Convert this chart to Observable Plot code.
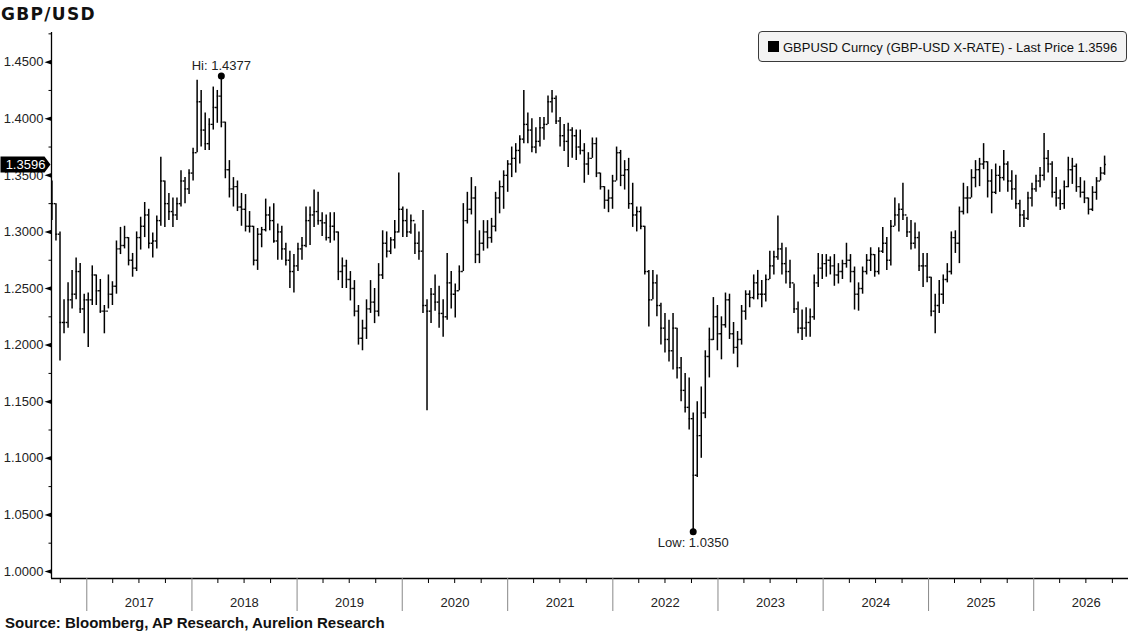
<!DOCTYPE html>
<html><head><meta charset="utf-8">
<script src="https://cdn.jsdelivr.net/npm/d3@7"></script>
<script src="https://cdn.jsdelivr.net/npm/@observablehq/plot@0.6"></script>
<style>
body{margin:0;background:#fff;}
#wrap{position:relative;width:1128px;height:635px;overflow:hidden;background:#fff;}
#chart{position:absolute;left:0;top:0;}
#title{position:absolute;left:1px;top:6px;font:bold 17px "DejaVu Sans",sans-serif;letter-spacing:1.3px;line-height:17px;color:#111;}
#source{position:absolute;left:5px;top:615px;font:bold 15px "Liberation Sans",Arial,sans-serif;line-height:15px;color:#111;white-space:nowrap;}
#legend{position:absolute;left:758px;top:31px;width:367px;height:29px;border:1px solid #3a3a3a;border-radius:4px;background:#f3f3f3;box-sizing:content-box;}
#legend .sq{position:absolute;left:9px;top:9px;width:11px;height:11px;background:#000;}
#legend .tx{position:absolute;left:24px;top:8px;font:13px "Liberation Sans",Arial,sans-serif;line-height:15px;color:#111;white-space:nowrap;}
</style></head><body>
<div id="wrap"><div id="chart"></div><div id="title">GBP/USD</div><div id="legend"><span class="sq"></span><span class="tx"></span></div><div id="source">Source: Bloomberg, AP Research, Aurelion Research</div></div>
<script>
// Bi-weekly OHLC bars of GBP/USD; open = previous close
const startDate = "2016-09-02";
const stepDays = 14;
const high = [
1.345,1.325,1.300,1.240,1.255,1.266,1.277,1.272,1.245,1.246,
1.270,1.262,1.258,1.235,1.262,1.256,1.292,1.304,1.305,1.295,
1.281,1.300,1.313,1.326,1.320,1.299,1.314,1.366,1.345,1.334,
1.330,1.330,1.354,1.348,1.355,1.374,1.434,1.425,1.405,1.400,
1.428,1.425,1.4377,1.397,1.363,1.348,1.345,1.334,1.333,1.318,
1.305,1.303,1.304,1.329,1.322,1.325,1.307,1.305,1.290,1.283,
1.280,1.290,1.295,1.322,1.322,1.337,1.335,1.317,1.315,1.317,
1.317,1.300,1.277,1.275,1.265,1.257,1.235,1.222,1.240,1.257,
1.250,1.272,1.301,1.300,1.295,1.310,1.352,1.322,1.320,1.315,
1.307,1.300,1.319,1.240,1.250,1.262,1.252,1.240,1.281,1.265,
1.254,1.270,1.325,1.335,1.348,1.340,1.301,1.310,1.310,1.312,
1.335,1.345,1.354,1.363,1.375,1.378,1.385,1.425,1.405,1.400,
1.392,1.401,1.401,1.420,1.425,1.420,1.401,1.395,1.396,1.392,
1.390,1.390,1.378,1.370,1.383,1.383,1.352,1.340,1.337,1.350,
1.375,1.372,1.363,1.365,1.343,1.322,1.322,1.305,1.266,1.266,
1.262,1.237,1.228,1.222,1.228,1.215,1.189,1.175,1.171,1.140,
1.150,1.163,1.195,1.215,1.242,1.235,1.225,1.246,1.245,1.220,
1.212,1.235,1.248,1.248,1.262,1.266,1.257,1.262,1.283,1.283,
1.314,1.290,1.286,1.275,1.254,1.238,1.231,1.233,1.232,1.262,
1.281,1.280,1.280,1.278,1.280,1.272,1.275,1.290,1.280,1.269,
1.255,1.269,1.280,1.286,1.280,1.286,1.304,1.295,1.310,1.330,
1.325,1.343,1.313,1.310,1.308,1.300,1.281,1.281,1.260,1.245,
1.257,1.262,1.272,1.300,1.301,1.322,1.343,1.340,1.355,1.363,
1.365,1.378,1.362,1.355,1.360,1.358,1.372,1.362,1.354,1.350,
1.328,1.319,1.335,1.343,1.350,1.357,1.387,1.372,1.362,1.348,
1.337,1.345,1.366,1.365,1.360,1.348,1.345,1.330,1.340,1.348,
1.357,1.367];
const low = [
1.310,1.292,1.186,1.210,1.215,1.232,1.240,1.228,1.210,1.198,
1.235,1.235,1.228,1.210,1.232,1.235,1.245,1.280,1.285,1.270,
1.260,1.265,1.284,1.295,1.285,1.277,1.285,1.305,1.304,1.310,
1.304,1.310,1.322,1.325,1.333,1.345,1.370,1.375,1.372,1.372,
1.390,1.396,1.392,1.347,1.330,1.322,1.318,1.305,1.300,1.299,
1.270,1.266,1.286,1.300,1.301,1.290,1.275,1.275,1.270,1.250,
1.246,1.265,1.275,1.286,1.288,1.304,1.306,1.296,1.292,1.290,
1.292,1.257,1.250,1.250,1.239,1.225,1.200,1.195,1.205,1.228,
1.219,1.225,1.258,1.277,1.280,1.285,1.299,1.295,1.295,1.298,
1.280,1.275,1.228,1.142,1.219,1.230,1.215,1.207,1.222,1.232,
1.224,1.248,1.265,1.307,1.315,1.272,1.272,1.283,1.285,1.290,
1.300,1.316,1.320,1.335,1.348,1.352,1.360,1.378,1.378,1.370,
1.369,1.375,1.381,1.395,1.405,1.395,1.375,1.371,1.357,1.365,
1.363,1.368,1.343,1.350,1.365,1.348,1.337,1.320,1.317,1.320,
1.345,1.340,1.337,1.320,1.304,1.300,1.302,1.262,1.216,1.240,
1.225,1.200,1.193,1.185,1.178,1.170,1.150,1.140,1.125,1.035,
1.083,1.100,1.135,1.171,1.204,1.195,1.187,1.215,1.205,1.192,
1.180,1.200,1.222,1.233,1.240,1.240,1.233,1.238,1.258,1.262,
1.275,1.262,1.254,1.250,1.228,1.210,1.204,1.207,1.207,1.222,
1.251,1.258,1.260,1.262,1.252,1.254,1.258,1.268,1.255,1.231,
1.230,1.245,1.262,1.265,1.260,1.262,1.281,1.266,1.270,1.305,
1.300,1.310,1.295,1.284,1.285,1.265,1.251,1.255,1.225,1.210,
1.228,1.236,1.255,1.262,1.281,1.272,1.315,1.316,1.330,1.339,
1.340,1.355,1.330,1.316,1.333,1.335,1.345,1.335,1.328,1.320,
1.304,1.304,1.310,1.322,1.335,1.339,1.345,1.352,1.330,1.322,
1.319,1.320,1.339,1.342,1.335,1.330,1.325,1.315,1.318,1.328,
1.345,1.350];
const close = [
1.325,1.298,1.220,1.220,1.240,1.245,1.265,1.232,1.240,1.240,
1.262,1.248,1.230,1.230,1.245,1.252,1.285,1.288,1.295,1.275,
1.268,1.295,1.305,1.315,1.290,1.292,1.310,1.345,1.325,1.318,
1.315,1.325,1.345,1.338,1.352,1.370,1.415,1.390,1.378,1.395,
1.410,1.420,1.397,1.355,1.338,1.340,1.322,1.320,1.305,1.305,
1.275,1.298,1.302,1.315,1.310,1.292,1.300,1.285,1.275,1.265,
1.270,1.285,1.288,1.310,1.315,1.318,1.310,1.308,1.295,1.305,
1.300,1.265,1.270,1.258,1.250,1.230,1.206,1.215,1.232,1.238,
1.230,1.262,1.290,1.283,1.293,1.300,1.320,1.310,1.300,1.310,
1.290,1.283,1.235,1.230,1.245,1.238,1.228,1.225,1.255,1.245,
1.248,1.265,1.310,1.320,1.330,1.280,1.290,1.300,1.295,1.305,
1.330,1.340,1.350,1.360,1.365,1.372,1.382,1.395,1.390,1.375,
1.380,1.392,1.395,1.415,1.418,1.398,1.385,1.380,1.390,1.385,
1.375,1.372,1.360,1.365,1.378,1.352,1.340,1.328,1.330,1.345,
1.370,1.350,1.355,1.325,1.315,1.318,1.305,1.265,1.240,1.255,
1.235,1.215,1.205,1.195,1.215,1.180,1.160,1.145,1.135,1.085,
1.120,1.140,1.190,1.205,1.225,1.210,1.218,1.240,1.210,1.198,
1.205,1.230,1.245,1.242,1.255,1.245,1.245,1.258,1.270,1.278,
1.285,1.272,1.265,1.255,1.232,1.215,1.215,1.220,1.225,1.255,
1.268,1.272,1.275,1.270,1.262,1.265,1.272,1.275,1.265,1.245,
1.250,1.265,1.275,1.280,1.265,1.283,1.290,1.275,1.305,1.315,
1.320,1.315,1.300,1.290,1.295,1.270,1.270,1.260,1.230,1.235,
1.245,1.258,1.265,1.295,1.290,1.318,1.330,1.330,1.348,1.355,
1.360,1.362,1.345,1.335,1.350,1.348,1.360,1.345,1.338,1.325,
1.315,1.312,1.330,1.338,1.345,1.350,1.365,1.360,1.335,1.330,
1.325,1.340,1.355,1.358,1.340,1.335,1.330,1.320,1.335,1.345,
1.352,1.3596];
const yTicks = [1.00, 1.05, 1.10, 1.15, 1.20, 1.25, 1.30, 1.35, 1.40, 1.45];
const yMinorTicks = [1.025, 1.075, 1.125, 1.175, 1.225, 1.275, 1.325, 1.375, 1.425, 1.475];
const yearLabels = [2017, 2018, 2019, 2020, 2021, 2022, 2023, 2024, 2025, 2026];
const seriesName = "GBPUSD Curncy (GBP-USD X-RATE)";

const fmt = d3.format(".4f");
const t0 = new Date(startDate + "T00:00:00Z");
const data = high.map((h, i) => ({
  date: d3.utcDay.offset(t0, stepDays * i),
  high: h, low: low[i], close: close[i],
  open: i > 0 ? close[i - 1] : null
}));
const xDomain = [new Date(Date.UTC(2016, 7, 31, 12)), new Date(Date.UTC(2026, 10, 26))];
const yDomain = [0.9938, 1.4762];
const yearStarts = yearLabels.map(y => new Date(Date.UTC(y, 0, 1)));
const yearMids = yearLabels.map(y => new Date(Date.UTC(y, 6, 2)));
const quarterTicks = d3.utcMonth.every(3).range(xDomain[0], xDomain[1]).filter(d => d.getUTCMonth() !== 0);
const hi = d3.greatest(data, d => d.high);
const lo = d3.least(data, d => d.low);
const last = data[data.length - 1];

const wedge = {draw(c) { c.moveTo(-7, 0); c.lineTo(0, -2.3); c.lineTo(0, 2.3); c.closePath(); }};
const minorTick = {draw(c) { c.moveTo(-3, 0); c.lineTo(0, 0); }};
const priceTag = {draw(c) { c.moveTo(-51, -8); c.lineTo(-7, -8); c.lineTo(-1, 0); c.lineTo(-7, 8); c.lineTo(-51, 8); c.closePath(); }};

const chart = Plot.plot({
  width: 1128, height: 635,
  marginTop: 32, marginBottom: 57, marginLeft: 51, marginRight: 0,
  x: {type: "utc", domain: xDomain, axis: null},
  y: {domain: yDomain, axis: null},
  style: {fontFamily: "'Liberation Sans', Arial, sans-serif", fontSize: "13px", color: "#222", background: "transparent", overflow: "visible"},
  marks: [
    Plot.ruleX(data, {x: "date", y1: "low", y2: "high", stroke: "#000", strokeWidth: 1.5}),
    Plot.ruleY(data, {y: "close", x1: "date", x2: d => d3.utcDay.offset(d.date, 6), stroke: "#000", strokeWidth: 1.4}),
    Plot.ruleY(data.filter(d => d.open != null), {y: "open", x1: d => d3.utcDay.offset(d.date, -6), x2: "date", stroke: "#000", strokeWidth: 1.4}),
    Plot.ruleX([xDomain[0]], {stroke: "#000", strokeWidth: 1.3}),
    Plot.ruleY([yDomain[0]], {stroke: "#000", strokeWidth: 1.3}),
    Plot.axisY(yTicks, {anchor: "left", tickSize: 0, tickPadding: 8, tickFormat: fmt, label: null, fill: "#222", fontSize: 13}),
    Plot.dot(yTicks, {y: d => d, frameAnchor: "left", symbol: wedge, r: 1, fill: "#000", stroke: "none"}),
    Plot.dot(yMinorTicks, {y: d => d, frameAnchor: "left", symbol: minorTick, r: 1, fill: "none", stroke: "#000", strokeWidth: 1}),
    Plot.axisX(yearStarts, {anchor: "bottom", tickSize: 33, tickFormat: () => "", label: null, stroke: "#888", strokeWidth: 1}),
    Plot.axisX(quarterTicks, {anchor: "bottom", tickSize: 5, tickFormat: () => "", label: null, stroke: "#000", strokeWidth: 1}),
    Plot.axisX(yearMids, {anchor: "bottom", tickSize: 0, tickPadding: 19, tickFormat: d => String(d.getUTCFullYear()), label: null, fill: "#222", fontSize: 13}),
    Plot.dot([hi, lo], {x: "date", y: d => d === hi ? d.high : d.low, r: 3.5, fill: "#000", stroke: "none"}),
    Plot.text([hi], {x: "date", y: "high", text: d => "Hi: " + fmt(d.high), dy: -10, fill: "#222", fontSize: 13}),
    Plot.text([lo], {x: "date", y: "low", text: d => "Low: " + fmt(d.low), dy: 11, fill: "#222", fontSize: 13}),
    Plot.dot([last], {y: "close", frameAnchor: "left", symbol: priceTag, r: 1, fill: "#000", stroke: "none"}),
    Plot.text([last], {y: "close", frameAnchor: "left", dx: -26, text: d => fmt(d.close), fill: "#fff", fontSize: 13, textAnchor: "middle"})
  ]
});
document.getElementById("chart").append(chart);
document.querySelector("#legend .tx").textContent = seriesName + " - Last Price " + fmt(last.close);
</script>
</body></html>
